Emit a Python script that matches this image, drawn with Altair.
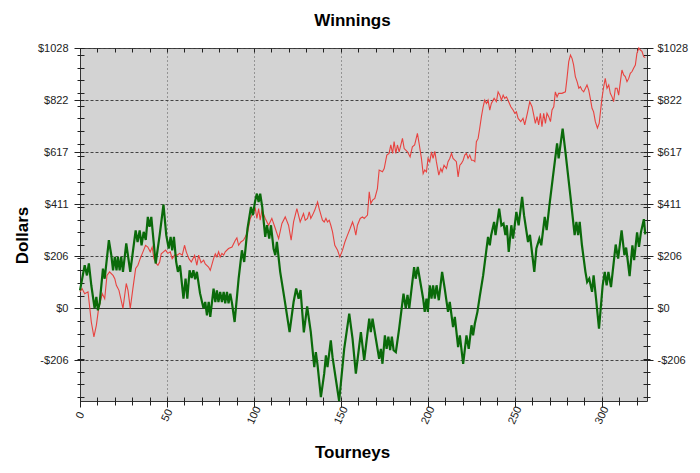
import altair as alt
import pandas as pd

FONT = "Liberation Sans"

# ---- data (tourney index, cumulative dollars) ----
green_t = [0, 2.7, 4.0, 5.1, 6.5, 8.4, 9.4, 10.3, 11.3, 13.2, 14.2, 16.6, 18.0, 19.0, 20.0, 21.0, 21.8, 22.8,
           23.7, 24.7, 26.6, 28.9, 32.0, 33.1, 34.3, 35.4, 36.6, 37.8, 39.0, 40.0, 41.0, 43.5, 45.8, 48.0,
           49.6, 51.0, 52.1, 53.0, 54.0, 55.3, 56.3, 57.5, 59.5, 60.7, 61.7, 63.0, 64.2, 65.2, 66.2, 67.2,
           69.0, 71.0, 72.0, 73.0, 74.0, 74.9, 76.8, 77.8, 78.7, 79.6, 80.6, 81.6, 82.6, 83.5, 84.5, 85.4,
           86.4, 87.4, 88.9, 91.2, 93.1, 94.4, 96.3, 98.3, 99.4, 100.6, 101.7, 102.7, 103.6, 104.8, 106.5,
           107.5, 108.8, 109.8, 111.3, 112.3, 113.2, 115.1, 117.5, 120.5, 122.8, 124.3, 125.7, 126.8, 128.7,
           130.6, 132.7, 134.7, 135.6, 136.6, 138.5, 140.4, 141.4, 142.3, 144.2, 145.2, 147.1, 149.0, 151.9,
           154.8, 156.7, 158.6, 161.5, 163.4, 166.3, 167.2, 168.2, 170.1, 172.0, 173.0, 173.9, 175.3, 176.3,
           177.3, 178.3, 179.3, 180.3, 181.6, 183.5, 186.0, 187.3, 188.3, 189.3, 192.1, 193.0, 194.2, 197.3,
           198.2, 199.2, 200.0, 201.1, 202.1, 203.0, 204.0, 205.0, 206.3, 208.2, 209.7, 211.6, 212.6, 214.5,
           215.5, 217.4, 218.4, 220.3, 222.2, 223.5, 225.1, 226.0, 227.0, 228.5, 229.8, 231.8, 234.6, 235.6,
           236.4, 238.1, 238.9, 241.0, 242.3, 243.5, 244.6, 245.4, 246.5, 248.0, 249.0, 250.9, 252.2, 254.2,
           255.3, 257.6, 258.7, 261.2, 262.4, 264.1, 265.2, 267.2, 268.3, 269.9, 271.8, 274.3, 275.2, 277.5,
           279.1, 281.9, 284.4, 285.4, 286.4, 287.3, 288.6, 290.6, 291.6, 292.8, 294.4, 295.3, 296.7, 298.4,
           300.5, 301.7, 302.8, 303.8, 305.3, 308.0, 309.4, 311.4, 313.0, 314.0, 316.0, 317.6, 318.6, 320.3,
           321.4, 322.5, 324.2, 325.0]
green_v = [71, 170, 130, 177, 91, 0, 45, -8, 20, 157, 117, 269, 210, 150, 203, 150, 203, 150,
           203, 144, 256, 144, 308, 262, 308, 249, 302, 270, 361, 322, 361, 177, 289, 410,
           289, 236, 282, 229, 282, 183, 144, 170, 38, 117, 38, 150, 120, 150, 115, 144,
           60, 0, 25, -28, 25, -34, 78, 25, 71, 25, 65, 25, 65, 20, 65, 20,
           58, 20, -54, 117, 229, 183, 315, 400, 368, 420, 453, 420, 453, 400, 282,
           328, 275, 328, 235, 210, 262, 144, 40, -94, 25, 78, 38, 72, -95,
           8, -94, -232, -173, -225, -351, -258, -186, -232, -127, -193, -280, -366, -160,
           -21, -120, -258, -94, -206, -41, -94, -41, -120, -199, -160, -219, -107, -160,
           -112, -165, -112, -165, -173, -80, 58, 0, 53, 0, 163, 117, 163, 38,
           -14, 38, -14, 91, 38, 91, 38, 91, 32, 144, 78, -14, 25, -74,
           -34, -153, -107, -219, -107, -160, -67, -107, -61, -14, 45, 130, 282, 249,
           289, 341, 289, 394, 328, 335, 289, 328, 223, 328, 275, 381, 328, 440,
           368, 262, 290, 144, 236, 275, 249, 361, 309, 407, 513, 651, 592, 710,
           618, 447, 289, 341, 289, 341, 249, 144, 104, 117, 65, 130, 38, -80,
           90, 144, 91, 144, 84, 252, 196, 308, 210, 240, 127, 249, 190, 300,
           243, 300, 352, 292]

red_t = [0, 1.2, 2.7, 4.6, 6.5, 8.0, 9.4, 10.7, 11.7, 12.8, 14.2, 15.5, 17.0, 19.0, 20.0, 20.9, 22.4, 24.7,
         26.6, 27.6, 28.9, 30.4, 32.0, 33.3, 34.6, 36.2, 37.7, 39.0, 40.4, 41.5, 42.5, 43.8, 44.8, 45.8,
         46.7, 48.0, 49.2, 50.5, 51.9, 53.0, 54.4, 55.9, 57.3, 58.8, 60.1, 61.1, 62.6, 64.0, 65.9, 67.2,
         68.2, 69.6, 71.1, 72.0, 73.9, 74.9, 76.8, 77.8, 78.7, 79.7, 80.6, 81.6, 82.6, 83.5, 85.4, 87.4,
         89.3, 90.2, 91.2, 92.5, 94.0, 95.0, 96.4, 97.9, 99.4, 100.8, 101.7, 102.7, 103.6, 104.6, 106.5,
         108.4, 110.3, 112.3, 114.2, 116.1, 118.0, 119.9, 121.4, 122.8, 124.7, 126.6, 128.5, 129.5, 130.8,
         131.8, 132.7, 133.7, 135.0, 136.6, 137.5, 139.4, 140.4, 141.4, 142.3, 143.3, 144.2, 145.2, 146.5,
         148.1, 149.4, 150.9, 152.3, 153.8, 155.3, 156.7, 157.6, 158.6, 159.5, 161.1, 162.4, 163.4, 164.3,
         165.3, 166.3, 167.2, 168.2, 169.5, 171.0, 172.0, 173.9, 174.9, 176.4, 177.7, 178.7, 179.7, 180.6,
         181.6, 182.5, 183.5, 185.4, 186.4, 188.3, 189.8, 191.1, 192.4, 194.0, 195.0, 196.3, 197.3, 198.2,
         199.2, 200.1, 201.1, 202.1, 203.0, 204.0, 204.9, 206.3, 207.4, 208.2, 209.3, 210.7, 211.6, 212.6,
         213.6, 214.5, 215.5, 216.4, 217.4, 218.4, 219.3, 220.3, 221.2, 222.2, 223.1, 224.1, 225.1, 226.0,
         227.0, 227.9, 228.9, 229.8, 230.8, 231.8, 232.7, 233.7, 234.6, 235.6, 236.5, 238.1, 239.4, 240.4,
         241.4, 242.3, 243.3, 244.2, 245.2, 246.1, 247.7, 249.0, 250.0, 250.9, 251.9, 253.4, 254.7, 255.7,
         257.2, 258.6, 259.9, 260.9, 261.8, 262.8, 263.7, 264.7, 265.6, 266.6, 267.6, 268.5, 269.5, 270.5,
         271.4, 272.4, 273.3, 274.3, 275.2, 277.1, 279.1, 280.0, 281.0, 282.0, 282.9, 283.8, 284.8, 285.8,
         286.8, 287.7, 288.6, 289.6, 290.6, 291.5, 292.5, 293.4, 294.4, 295.3, 296.3, 297.5, 298.5, 300.1,
         301.1, 302.0, 303.0, 304.0, 304.9, 305.9, 306.8, 307.8, 308.8, 309.7, 310.7, 311.6, 312.6, 313.5,
         314.5, 315.5, 316.4, 317.4, 318.3, 319.3, 320.2, 321.3, 322.2, 323.1, 324.1, 325.0]
red_v = [65, 78, 58, 65, -54, -113, -67, 0, 25, 58, 38, 130, 144, 130, 117, 91, 71, 0,
         98, 71, 0, 78, 157, 170, 196, 223, 249, 242, 223, 242, 196, 177, 170, 183,
         215, 223, 230, 217, 223, 196, 210, 210, 217, 210, 249, 223, 196, 183, 209, 170,
         210, 180, 190, 175, 163, 150, 196, 215, 203, 223, 203, 217, 210, 223, 236, 242,
         269, 278, 249, 262, 269, 282, 302, 355, 375, 394, 355, 394, 348, 388, 355,
         328, 355, 315, 275, 335, 361, 328, 269, 341, 394, 341, 374, 348, 355,
         381, 355, 368, 388, 420, 394, 348, 341, 355, 341, 348, 328, 302, 249,
         229, 203, 229, 262, 289, 315, 341, 322, 289, 328, 355, 361, 355, 361,
         368, 460, 414, 427, 434, 473, 546, 539, 552, 605, 612, 645, 612, 658,
         612, 645, 618, 671, 631, 618, 598, 638, 645, 691, 650, 592, 532, 546,
         539, 592, 579, 618, 592, 620, 579, 526, 552, 539, 565, 552, 579, 592,
         612, 592, 585, 579, 519, 565, 572, 585, 605, 612, 592, 605, 585, 585,
         579, 658, 671, 710, 757, 796, 822, 809, 822, 783, 809, 829, 816, 855,
         842, 822, 842, 829, 835, 822, 796, 783, 770, 776, 750, 737, 750, 724,
         770, 816, 796, 763, 730, 757, 724, 770, 717, 770, 730, 770, 757, 737,
         783, 796, 855, 835, 849, 849, 855, 908, 974, 1000, 987, 961, 915, 895,
         869, 875, 862, 855, 869, 882, 862, 829, 790, 776, 737, 712, 730, 829,
         875, 908, 869, 882, 849, 835, 816, 869, 869, 842, 895, 941, 922, 915,
         895, 908, 928, 935, 948, 961, 1007, 1028, 1020, 1015, 994, 990]

# ---- axis values ----
x_domain = [0, 326]
y_domain = [-366, 1028]
x_major = [0, 50, 100, 150, 200, 250, 300]
x_minor = [v for v in range(0, 330, 10) if v % 50 != 0]
y_major = [-205.6, 0, 205.6, 411.2, 616.8, 822.4, 1028]
y_minor = [v for v in range(-350, 1050, 50) if v != 0]

df = pd.concat([
    pd.DataFrame({"t": red_t, "v": red_v, "series": "red"}),
    pd.DataFrame({"t": green_t, "v": green_v, "series": "green"}),
])

MAJOR_Y = "datum.value == 0 || datum.value % 50 != 0"
MAJOR_X = "datum.value % 50 == 0"
Y_LABEL = ("(" + MAJOR_Y + ") ? ((datum.value < 0 ? '-$' : '$') + format(abs(datum.value), '.0f')) : ''")

x_scale = alt.Scale(domain=x_domain, nice=False, zero=False)
y_scale = alt.Scale(domain=y_domain, nice=False, zero=False)

axis_common = dict(labelFont=FONT, labelFontSize=11, labelColor="#222", domain=False,
                   tickColor="#222", tickWidth=1, labelOverlap=False, labelFlush=False)

x_bottom = alt.Axis(
    orient="bottom", values=x_major + x_minor, labelExpr="(" + MAJOR_X + ") ? datum.label : ''",
    labelAngle=295, labelAlign="center", labelBaseline="middle", labelPadding=8,
    offset=-4, tickSize={"condition": {"test": MAJOR_X, "value": 10}, "value": 8},
    grid=True, gridColor="#555", gridDash=[1, 3], gridWidth=1,
    gridOpacity={"condition": {"test": MAJOR_X + " && datum.value != 0", "value": 1}, "value": 0},
    title="Tourneys", titleFont=FONT, titleFontSize=17, titleFontWeight="bold", titleColor="#000",
    titleX=272, titleY=55, titleAlign="center", titleBaseline="middle", titleAngle=0,
    **axis_common)

y_left = alt.Axis(
    orient="left", values=y_major + y_minor, labelExpr=Y_LABEL, labelPadding=6,
    offset=-4, tickSize={"condition": {"test": MAJOR_Y, "value": 10}, "value": 7},
    grid=True,
    gridColor={"condition": {"test": "datum.value == 0", "value": "#000"}, "value": "#444"},
    gridDash={"condition": {"test": "datum.value == 0", "value": [1, 0]}, "value": [3, 2]},
    gridOpacity={"condition": {"test": MAJOR_Y, "value": 1}, "value": 0},
    gridWidth=1,
    title="Dollars", titleFont=FONT, titleFontSize=17, titleFontWeight="bold", titleColor="#000",
    titleX=-62, titleY=187, titleAlign="center", titleBaseline="middle", titleAngle=270,
    **axis_common)

y_right = alt.Axis(
    orient="right", values=y_major + y_minor, labelExpr=Y_LABEL, labelPadding=4,
    offset=-4, tickSize={"condition": {"test": MAJOR_Y, "value": 10}, "value": 7},
    grid=False, title=None, **axis_common)

x_top = alt.Axis(
    orient="top", values=x_major + x_minor, labels=False, offset=-4, tickSize=4,
    grid=False, title=None, **axis_common)

red_line = alt.Chart(df).transform_filter("datum.series == 'red'").mark_line(
    color="#e8423f", strokeWidth=1.1, interpolate="linear"
).encode(
    x=alt.X("t:Q", scale=x_scale, axis=x_bottom),
    y=alt.Y("v:Q", scale=y_scale, axis=y_left),
    order="t:Q",
)

green_line = alt.Chart(df).transform_filter("datum.series == 'green'").mark_line(
    color="#0a6a0a", strokeWidth=2.2, interpolate="linear"
).encode(
    x=alt.X("t:Q", scale=x_scale, axis=None),
    y=alt.Y("v:Q", scale=y_scale, axis=None),
    order="t:Q",
)

mirror = alt.Chart(df).transform_filter("datum.series == 'red'").mark_line(opacity=0).encode(
    x=alt.X("t:Q", scale=x_scale, axis=x_top),
    y=alt.Y("v:Q", scale=y_scale, axis=y_right),
)

chart = alt.layer(red_line, green_line, mirror).resolve_axis(
    x="independent", y="independent"
).properties(
    width=567, height=353,
    title=alt.TitleParams("Winnings", font=FONT, fontSize=17, fontWeight="bold", color="#000",
                          anchor="middle", frame="group", dx=-11, offset=12),
    autosize=alt.AutoSizeParams(type="none"),
    padding={"left": 72, "top": 40, "right": 45, "bottom": 64},
).configure(
    background="white"
).configure_view(
    fill="#d3d3d3", stroke="#333", strokeWidth=1
)

chart.save("out.html", embed_options={"renderer": "svg", "actions": False})
